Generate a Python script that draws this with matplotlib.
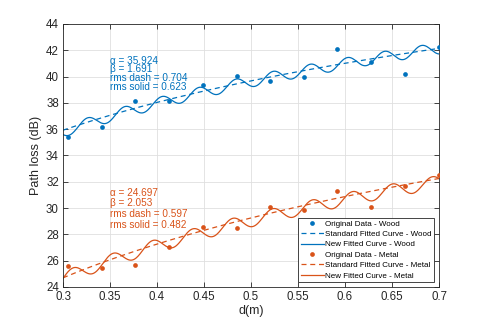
import numpy as np
import matplotlib
matplotlib.use("Agg")
import matplotlib.pyplot as plt

plt.rcParams['font.family'] = ['Liberation Sans', 'DejaVu Sans']

# ---- data ----
d_data = [0.305, 0.341, 0.377, 0.413, 0.449, 0.485, 0.520, 0.556, 0.592, 0.628, 0.664, 0.700]
wood_data = [35.38, 36.19, 38.17, 38.17, 39.34, 40.05, 39.63, 40.00, 42.08, 41.13, 40.17, 42.23]
metal_data = [25.57, 25.42, 25.67, 27.02, 28.56, 28.51, 30.11, 29.83, 31.32, 30.11, 31.70, 32.54]

# standard model parameters (alpha, beta) as printed on the chart
wood_std = [35.924, 1.691]
metal_std = [24.697, 2.053]
rms_wood = [0.704, 0.623]
rms_metal = [0.597, 0.482]

# new model parameters: alpha, beta, ripple amplitude, ripple period, first peak position
wood_new = [35.81, 1.72, 0.43, 0.0395, 0.3262]
metal_new = [24.65, 1.99, 0.50, 0.0425, 0.3106]

d_ref = 0.3
x_ticks = [0.3, 0.35, 0.4, 0.45, 0.5, 0.55, 0.6, 0.65, 0.7]
y_ticks = [24, 26, 28, 30, 32, 34, 36, 38, 40, 42, 44]

C_WOOD = '#0072BD'
C_METAL = '#D95319'

d_fit = np.linspace(0.3, 0.7, 600)


def std_curve(p):
    a, b = p
    return a + 10 * b * np.log10(d_fit / d_ref)


def new_curve(p):
    a, b, amp, per, pk = p
    return a + 10 * b * np.log10(d_fit / d_ref) + amp * np.cos(2 * np.pi * (d_fit - pk) / per)


fig = plt.figure(figsize=(4.85, 3.23), dpi=100)
ax = fig.add_axes([0.1299, 0.1115, 0.7753, 0.8142])

dash = (0, (4.0, 3.0))
ax.plot(d_data, wood_data, 'o', color=C_WOOD, ms=3.4, mec='none', label='Original Data - Wood', zorder=3)
ax.plot(d_fit, std_curve(wood_std), color=C_WOOD, lw=0.9, ls=dash, label='Standard Fitted Curve - Wood')
ax.plot(d_fit, new_curve(wood_new), color=C_WOOD, lw=0.9, label='New Fitted Curve - Wood')
ax.plot(d_data, metal_data, 'o', color=C_METAL, ms=3.4, mec='none', label='Original Data - Metal', zorder=3)
ax.plot(d_fit, std_curve(metal_std), color=C_METAL, lw=0.9, ls=dash, label='Standard Fitted Curve - Metal')
ax.plot(d_fit, new_curve(metal_new), color=C_METAL, lw=0.9, label='New Fitted Curve - Metal')

ax.set_xlim(0.3, 0.7)
ax.set_ylim(24, 44)
ax.set_xticks(x_ticks)
ax.set_xticklabels([f'{v:g}' for v in x_ticks])
ax.set_yticks(y_ticks)
ax.grid(True, color='#dfdfdf', lw=0.6)
ax.set_axisbelow(True)
for s in ax.spines.values():
    s.set_color('#262626')
    s.set_linewidth(0.6)
ax.tick_params(direction='in', top=True, right=True, length=3.5, width=0.6,
               color='#262626', labelsize=8.3, labelcolor='#262626', pad=3)
ax.set_xlabel('d(m)', fontsize=9, color='#262626', labelpad=1)
ax.set_ylabel('Path loss (dB)', fontsize=9, color='#262626', labelpad=3)

# annotations
wood_lines = [f'\u03b1 = {wood_std[0]:.3f}', f'\u03b2 = {wood_std[1]:.3f}',
              f'rms dash = {rms_wood[0]:.3f}', f'rms solid = {rms_wood[1]:.3f}']
metal_lines = [f'\u03b1 = {metal_std[0]:.3f}', f'\u03b2 = {metal_std[1]:.3f}',
               f'rms dash = {rms_metal[0]:.3f}', f'rms solid = {rms_metal[1]:.3f}']
wood_y = [41.22, 40.56, 39.90, 39.24]
metal_y = [31.15, 30.35, 29.55, 28.75]
for t, y in zip(wood_lines, wood_y):
    ax.text(0.35, y, t, color=C_WOOD, fontsize=7.2, va='center', ha='left')
for t, y in zip(metal_lines, metal_y):
    ax.text(0.35, y, t, color=C_METAL, fontsize=7.2, va='center', ha='left')

leg = ax.legend(loc='lower right', bbox_to_anchor=(0.987, 0.019), borderaxespad=0,
                fontsize=5.8, handlelength=2.9, handletextpad=0.15, labelspacing=0.34,
                borderpad=0.3, fancybox=False, framealpha=1, edgecolor='#262626')
leg.get_frame().set_linewidth(0.6)

fig.savefig('out.png', dpi=100)
